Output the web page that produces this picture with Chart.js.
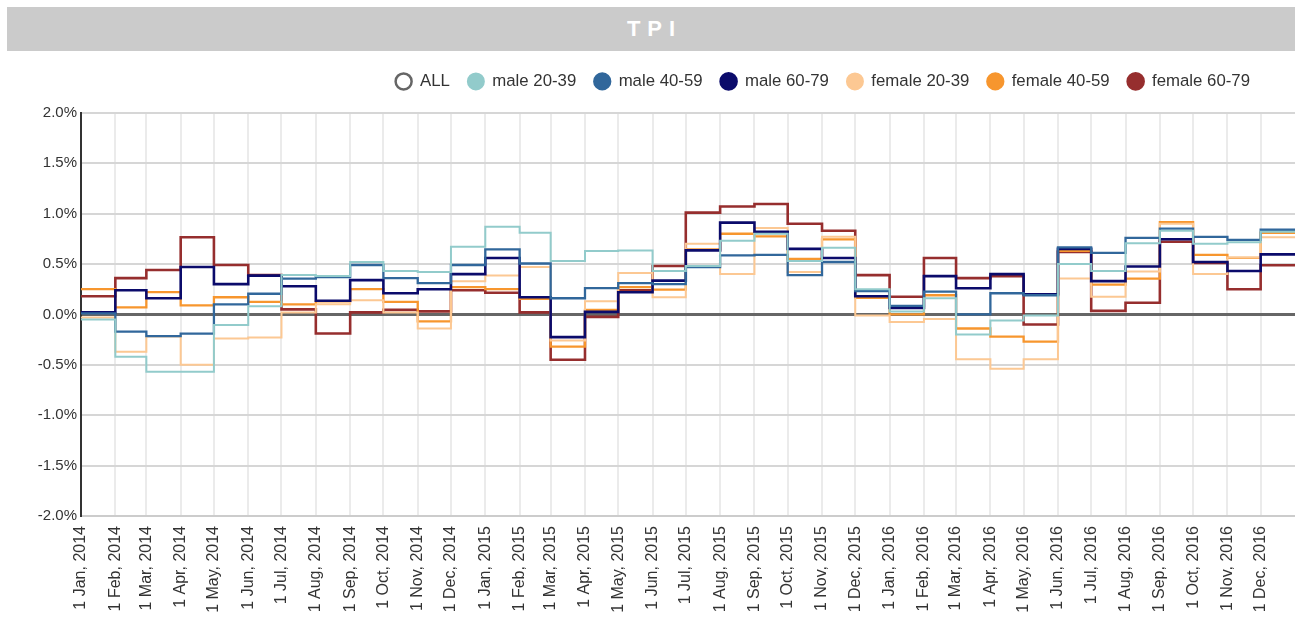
<!DOCTYPE html>
<html><head><meta charset="utf-8">
<script src="https://cdn.jsdelivr.net/npm/chart.js@4.4.1/dist/chart.umd.min.js"></script>
<style>
html,body{margin:0;padding:0;background:#fff;overflow:hidden;}
#wrap{position:relative;width:1295px;height:618px;}
#title{position:absolute;left:7px;top:7px;width:1288px;height:44px;background:#cbcbcb;color:#fff;font:bold 22px "Liberation Sans",Arial,sans-serif;letter-spacing:7px;text-align:center;line-height:44px;padding-left:7px;box-sizing:border-box;z-index:2}
canvas{position:absolute;left:0;top:0;}
</style></head><body>
<div id="wrap"><div id="title">TPI</div><canvas id="c" width="1295" height="618"></canvas></div>
<script>
const months = ['1 Jan, 2014','1 Feb, 2014','1 Mar, 2014','1 Apr, 2014','1 May, 2014','1 Jun, 2014','1 Jul, 2014','1 Aug, 2014','1 Sep, 2014','1 Oct, 2014','1 Nov, 2014','1 Dec, 2014',
'1 Jan, 2015','1 Feb, 2015','1 Mar, 2015','1 Apr, 2015','1 May, 2015','1 Jun, 2015','1 Jul, 2015','1 Aug, 2015','1 Sep, 2015','1 Oct, 2015','1 Nov, 2015','1 Dec, 2015',
'1 Jan, 2016','1 Feb, 2016','1 Mar, 2016','1 Apr, 2016','1 May, 2016','1 Jun, 2016','1 Jul, 2016','1 Aug, 2016','1 Sep, 2016','1 Oct, 2016','1 Nov, 2016','1 Dec, 2016'];
const axisRange = ['1 Jan, 2014', '1 Jan, 2017'];
const yTickValues = [-2.0, -1.5, -1.0, -0.5, 0.0, 0.5, 1.0, 1.5, 2.0];

const seriesNames = ['ALL','male 20-39','male 40-59','male 60-79','female 20-39','female 40-59','female 60-79'];
const seriesColors = ['#666666','#92cbcb','#31679b','#0b0b6b','#fcc893','#f7962e','#962e2e'];
const seriesWidths = [2.5, 2, 2.3, 2.6, 2, 2.3, 2.6];

const all = [];
const male2039 = [-0.05,-0.42,-0.57,-0.57,-0.105,0.08,0.39,0.38,0.52,0.43,0.42,0.67,
  0.87,0.81,0.53,0.63,0.635,0.43,0.48,0.73,0.80,0.53,0.66,0.25,
  0.03,0.16,-0.20,-0.06,-0.01,0.50,0.43,0.705,0.83,0.70,0.715,0.82];
const male4059 = [0.01,-0.17,-0.215,-0.19,0.10,0.205,0.355,0.37,0.49,0.36,0.31,0.49,
  0.645,0.505,0.16,0.26,0.31,0.30,0.47,0.585,0.59,0.39,0.52,0.23,
  0.085,0.225,0.0,0.21,0.19,0.665,0.61,0.76,0.85,0.77,0.74,0.84];
const male6079 = [0.02,0.24,0.16,0.47,0.30,0.385,0.28,0.135,0.34,0.21,0.25,0.40,
  0.56,0.17,-0.225,0.025,0.22,0.335,0.635,0.91,0.82,0.65,0.56,0.18,
  0.065,0.38,0.26,0.40,0.20,0.65,0.33,0.475,0.745,0.52,0.43,0.595];
const female2039 = [-0.03,-0.37,-0.22,-0.50,-0.24,-0.23,0.02,0.10,0.14,0.02,-0.14,0.33,
  0.385,0.47,-0.26,0.13,0.41,0.17,0.70,0.40,0.856,0.42,0.77,-0.01,
  -0.075,-0.045,-0.445,-0.54,-0.445,0.355,0.175,0.425,0.90,0.40,0.565,0.765];
const female4059 = [0.25,0.07,0.22,0.09,0.17,0.125,0.10,0.13,0.25,0.125,-0.07,0.27,
  0.25,0.155,-0.32,0.045,0.27,0.245,0.645,0.80,0.775,0.55,0.745,0.165,
  0.0,0.19,-0.14,-0.22,-0.27,0.63,0.295,0.355,0.915,0.59,0.56,0.81];
const female6079 = [0.18,0.36,0.44,0.765,0.49,0.39,0.05,-0.19,0.02,0.045,0.03,0.24,
  0.215,0.02,-0.45,-0.025,0.24,0.48,1.01,1.07,1.095,0.90,0.83,0.39,
  0.175,0.56,0.36,0.38,-0.10,0.62,0.035,0.115,0.72,0.51,0.25,0.487];
const seriesValues = [all, male2039, male4059, male6079, female2039, female4059, female6079];

const MON = {Jan:0,Feb:1,Mar:2,Apr:3,May:4,Jun:5,Jul:6,Aug:7,Sep:8,Oct:9,Nov:10,Dec:11};
function dayOf(label){
  const p = label.replace(',', '').split(' ');
  return Date.UTC(+p[2], MON[p[1]], +p[0]) / 86400000;
}
const monthDays = months.map(dayOf);
const xMin = dayOf(axisRange[0]), xMax = dayOf(axisRange[1]);

const datasets = seriesNames.map((name, k) => {
  const vals = seriesValues[k];
  const pts = vals.map((v, i) => ({x: monthDays[i], y: v}));
  if (vals.length) pts.push({x: xMax, y: vals[vals.length - 1]});
  const isAll = name === 'ALL';
  return {
    label: name,
    data: pts,
    borderColor: seriesColors[k],
    backgroundColor: isAll ? '#ffffff' : seriesColors[k],
    borderWidth: seriesWidths[k],
    stepped: true,
    pointRadius: 0,
    pointHoverRadius: 0,
    tension: 0,
    fill: false
  };
});

Chart.defaults.font.family = '"Liberation Sans", Arial, sans-serif';
Chart.defaults.color = '#444';

const legendShift = {
  id: 'legendShift',
  beforeLayout(chart) {
    const lg = chart.legend;
    if (lg && !lg._patched) {
      const f = lg.fit.bind(lg);
      lg.fit = function(){ f(); this.height += 13; };
      lg._patched = true;
    }
  },
  afterLayout(chart) { chart.legend.right -= 27; }
};

new Chart(document.getElementById('c'), {
  type: 'line',
  data: { datasets },
  plugins: [legendShift],
  options: {
    responsive: false,
    animation: false,
    events: [],
    layout: { padding: { top: 55, left: 0, right: 0, bottom: 0 } },
    plugins: {
      title: { display: false },
      tooltip: { enabled: false },
      legend: {
        display: true,
        position: 'top',
        align: 'end',
        labels: {
          usePointStyle: true,
          pointStyle: 'circle',
          pointStyleWidth: 16,
          boxHeight: 11.3,
          padding: 18,
          color: '#333',
          font: { size: 16.8 }
        }
      }
    },
    scales: {
      x: {
        type: 'linear',
        min: xMin,
        max: xMax,
        afterBuildTicks(s) { s.ticks = monthDays.map(v => ({value: v})); },
        afterFit(s) { s.height = 102; s.paddingLeft = 0; s.paddingRight = 0; },
        ticks: {
          autoSkip: false,
          maxRotation: 90,
          minRotation: 90,
          padding: 10,
          color: '#333',
          font: { size: 16 },
          callback(v) { const i = monthDays.indexOf(v); return i >= 0 ? months[i] : ''; }
        },
        grid: { color: '#ebebeb', lineWidth: 2, drawTicks: false },
        border: { color: '#cccccc', width: 2 }
      },
      y: {
        type: 'linear',
        min: yTickValues[0],
        max: yTickValues[yTickValues.length - 1],
        afterBuildTicks(s) { s.ticks = yTickValues.map(v => ({value: v})); },
        afterFit(s) { s.width = 81; },
        ticks: {
          padding: 4,
          color: '#333',
          font: { size: 15 },
          callback(v) { return v.toFixed(1) + '%'; }
        },
        grid: {
          color: c => (c.tick && c.tick.value === 0) ? '#666666' : '#d6d6d6',
          lineWidth: c => (c.tick && c.tick.value === 0) ? 3 : 2,
          drawTicks: false
        },
        border: { color: '#333333', width: 2 }
      }
    }
  }
});
</script>
</body></html>
